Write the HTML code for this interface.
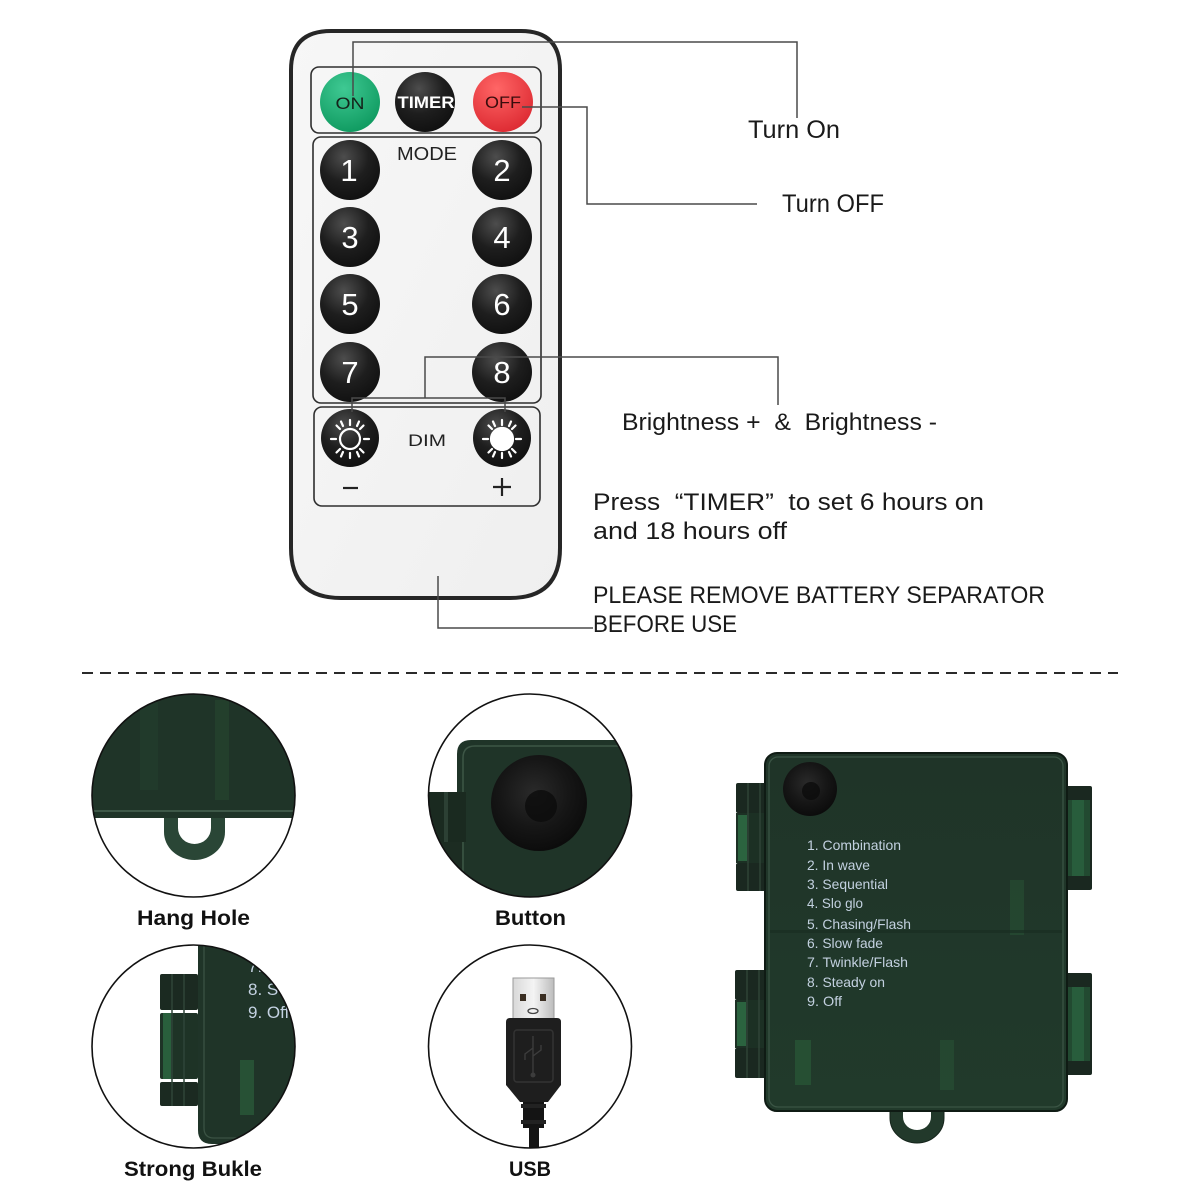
<!DOCTYPE html>
<html><head><meta charset="utf-8">
<style>
html,body{margin:0;padding:0;background:#fff;}
svg{display:block;}
text{font-family:"Liberation Sans",Arial,sans-serif;}
</style></head>
<body>
<svg width="1200" height="1200" viewBox="0 0 1200 1200" xmlns="http://www.w3.org/2000/svg">
<defs>
  <radialGradient id="gBlack" cx="40%" cy="28%" r="75%">
    <stop offset="0" stop-color="#4d4d4d"/><stop offset="0.55" stop-color="#1e1e1e"/><stop offset="1" stop-color="#101010"/>
  </radialGradient>
  <radialGradient id="gGreen" cx="40%" cy="28%" r="75%">
    <stop offset="0" stop-color="#3fc993"/><stop offset="1" stop-color="#0f9a60"/>
  </radialGradient>
  <radialGradient id="gRed" cx="40%" cy="28%" r="75%">
    <stop offset="0" stop-color="#ff6666"/><stop offset="1" stop-color="#dd2a32"/>
  </radialGradient>
  <linearGradient id="gBody" x1="0" y1="0" x2="1" y2="1">
    <stop offset="0" stop-color="#f7f7f7"/><stop offset="1" stop-color="#efefef"/>
  </linearGradient>
  <linearGradient id="gBox" x1="0" y1="0" x2="0" y2="1">
    <stop offset="0" stop-color="#1f3428"/><stop offset="1" stop-color="#213a2b"/>
  </linearGradient>
  <radialGradient id="gKnob" cx="45%" cy="40%" r="60%">
    <stop offset="0" stop-color="#2a2a2a"/><stop offset="0.6" stop-color="#161616"/><stop offset="1" stop-color="#0c0c0c"/>
  </radialGradient>
  <linearGradient id="gMetal" x1="0" y1="0" x2="1" y2="0">
    <stop offset="0" stop-color="#d8d8d8"/><stop offset="0.5" stop-color="#f4f4f4"/><stop offset="1" stop-color="#bcbcbc"/>
  </linearGradient>
  <clipPath id="c1"><circle cx="193.5" cy="795.5" r="101.5"/></clipPath>
  <clipPath id="c2"><circle cx="530" cy="795.5" r="101.5"/></clipPath>
  <clipPath id="c3"><circle cx="193.5" cy="1046.5" r="101.5"/></clipPath>
  <clipPath id="c4"><circle cx="530" cy="1046.5" r="101.5"/></clipPath>
</defs>

<!-- ============ REMOTE ============ -->
<path d="M331,31 H521 Q560,31 560,70 V548 Q560,598 510,598 H341 Q291,598 291,548 V70 Q291,31 331,31 Z" fill="url(#gBody)" stroke="#262626" stroke-width="4"/>
<rect x="311" y="67" width="230" height="66" rx="8" fill="none" stroke="#2e2e2e" stroke-width="1.6"/>
<rect x="313" y="137" width="228" height="266" rx="8" fill="none" stroke="#2e2e2e" stroke-width="1.6"/>
<rect x="314" y="407" width="226" height="99" rx="8" fill="none" stroke="#2e2e2e" stroke-width="1.6"/>

<!-- top buttons -->
<circle cx="350" cy="102" r="30" fill="url(#gGreen)"/>
<circle cx="425" cy="102" r="30" fill="url(#gBlack)"/>
<circle cx="503" cy="102" r="30" fill="url(#gRed)"/>
<text x="350" y="109" font-size="17" text-anchor="middle" fill="#15231b" textLength="29" lengthAdjust="spacingAndGlyphs">ON</text>
<text x="426" y="108" font-size="17" font-weight="bold" text-anchor="middle" fill="#fff" textLength="57" lengthAdjust="spacingAndGlyphs">TIMER</text>
<text x="503" y="108" font-size="17" text-anchor="middle" fill="#3a0c0c" textLength="36" lengthAdjust="spacingAndGlyphs">OFF</text>

<text x="427" y="160" font-size="18" text-anchor="middle" fill="#222" textLength="60" lengthAdjust="spacingAndGlyphs">MODE</text>

<!-- number buttons -->
<g fill="url(#gBlack)">
  <circle cx="350" cy="170" r="30"/><circle cx="502" cy="170" r="30"/>
  <circle cx="350" cy="237" r="30"/><circle cx="502" cy="237" r="30"/>
  <circle cx="350" cy="304" r="30"/><circle cx="502" cy="304" r="30"/>
  <circle cx="350" cy="372" r="30"/><circle cx="502" cy="372" r="30"/>
  <circle cx="350" cy="438" r="29"/><circle cx="502" cy="438" r="29"/>
</g>
<g font-size="31" fill="#fff" text-anchor="middle">
  <text x="349" y="181">1</text><text x="502" y="181">2</text>
  <text x="350" y="248">3</text><text x="502" y="248">4</text>
  <text x="350" y="315">5</text><text x="502" y="315">6</text>
  <text x="350" y="383">7</text><text x="502" y="383">8</text>
</g>

<!-- sun icons -->
<g stroke="#fff" stroke-width="2.2" stroke-linecap="round">
  <circle cx="350" cy="439" r="10" fill="none"/>
  <path d="M350,425 V420 M350,453 V458 M336,439 H331 M364,439 H369 M340,429 L336.5,425.5 M360,449 L363.5,452.5 M360,429 L363.5,425.5 M340,449 L336.5,452.5 M343,426 L341,421.5 M357,452 L359,456.5 M357,426 L359,421.5 M343,452 L341,456.5"/>
  <circle cx="502" cy="439" r="11" fill="#fff"/>
  <path d="M502,425 V420 M502,453 V458 M488,439 H483 M516,439 H521 M492,429 L488.5,425.5 M512,449 L515.5,452.5 M512,429 L515.5,425.5 M492,449 L488.5,452.5 M495,426 L493,421.5 M509,452 L511,456.5 M509,426 L511,421.5 M495,452 L493,456.5"/>
</g>
<text x="427" y="446" font-size="17" text-anchor="middle" fill="#222" textLength="38" lengthAdjust="spacingAndGlyphs">DIM</text>
<path d="M343,488 H358" stroke="#222" stroke-width="2.2"/>
<path d="M493,487 H511 M502,478 V496" stroke="#222" stroke-width="2.2"/>

<!-- connector lines -->
<g fill="none" stroke="#4a4a4a" stroke-width="1.5">
  <path d="M353,96 V42 H797 V118"/>
  <path d="M522,107 H587 V204 H757"/>
  <path d="M778,405 V357 H425 V398"/>
  <path d="M352,412 V398 H505 V412"/>
  <path d="M438,576 V628 H593"/>
</g>

<!-- labels -->
<g fill="#1a1a1a" font-size="25">
  <text x="748" y="138" textLength="92" lengthAdjust="spacingAndGlyphs">Turn On</text>
  <text x="782" y="212" textLength="102" lengthAdjust="spacingAndGlyphs">Turn OFF</text>
  <text x="622" y="430" font-size="24" textLength="315" lengthAdjust="spacingAndGlyphs" style="white-space:pre">Brightness +  &amp;  Brightness -</text>
  <text x="593" y="510" font-size="24" textLength="391" lengthAdjust="spacingAndGlyphs" style="white-space:pre">Press  “TIMER”  to set 6 hours on</text>
  <text x="593" y="539" font-size="24" textLength="194" lengthAdjust="spacingAndGlyphs">and 18 hours off</text>
  <text x="593" y="603" font-size="24" textLength="452" lengthAdjust="spacingAndGlyphs">PLEASE REMOVE BATTERY SEPARATOR</text>
  <text x="593" y="632" font-size="24" textLength="144" lengthAdjust="spacingAndGlyphs">BEFORE USE</text>
</g>

<!-- dashed separator -->
<path d="M82,673 H1118" stroke="#2a2a2a" stroke-width="2" stroke-dasharray="11 7"/>

<!-- ============ CIRCLE 1 : Hang Hole ============ -->
<g clip-path="url(#c1)">
  <rect x="80" y="680" width="230" height="138" fill="#1f3428"/>
  <rect x="140" y="700" width="18" height="90" fill="#23402d" opacity="0.6"/>
  <rect x="215" y="700" width="14" height="100" fill="#27492f" opacity="0.5"/>
  <rect x="80" y="810" width="230" height="2" fill="#3e5848"/>
  <path d="M164,818 V832 A30.5,28 0 0 0 225,832 V818 Z" fill="#2a4636"/>
  <path d="M178,818 V828 A16.5,16 0 0 0 211,828 V818 Z" fill="#fff"/>
</g>
<circle cx="193.5" cy="795.5" r="101.5" fill="none" stroke="#111" stroke-width="1.6"/>

<!-- ============ CIRCLE 2 : Button ============ -->
<g clip-path="url(#c2)">
  <path d="M457,900 V754 Q457,740 471,740 H650 V900 Z" fill="#1f3428"/>
  <path d="M463,900 V758 Q463,746 475,746 H650" fill="none" stroke="#3d5646" stroke-width="1.5"/>
  <rect x="426" y="792" width="40" height="50" fill="#1a2a20"/>
  <rect x="444" y="792" width="4" height="50" fill="#2c4034"/>
  <rect x="426" y="842" width="36" height="60" fill="#1c2c22"/>
  <circle cx="539" cy="803" r="48" fill="url(#gKnob)"/>
  <circle cx="541" cy="806" r="16" fill="#0b0b0b" opacity="0.8"/>
</g>
<circle cx="530" cy="795.5" r="101.5" fill="none" stroke="#111" stroke-width="1.6"/>

<!-- ============ CIRCLE 3 : Strong Bukle ============ -->
<g clip-path="url(#c3)">
  <path d="M198,930 V1130 Q198,1144 212,1144 H310 V930 Z" fill="#1f3428"/>
  <path d="M204,930 V1128 Q204,1138 214,1138 H310" fill="none" stroke="#3a5243" stroke-width="1.3"/>
  <rect x="240" y="1060" width="14" height="55" fill="#2e6a40" opacity="0.55"/>
  <rect x="160" y="974" width="38" height="36" rx="2" fill="#1b2a21"/>
  <rect x="160" y="1013" width="38" height="66" rx="2" fill="#1e3326"/>
  <rect x="163" y="1013" width="8" height="66" fill="#2c6a42" opacity="0.8"/>
  <rect x="160" y="1082" width="38" height="24" rx="2" fill="#1b2a21"/>
  <path d="M172,974 V1106 M184,974 V1106" stroke="#2f4438" stroke-width="1.5"/>
  <g fill="#c4d2e2" font-size="17">
    <text x="248" y="972">7.</text>
    <text x="248" y="995">8. St</text>
    <text x="248" y="1018">9. Off</text>
  </g>
</g>
<circle cx="193.5" cy="1046.5" r="101.5" fill="none" stroke="#111" stroke-width="1.6"/>

<!-- ============ CIRCLE 4 : USB ============ -->
<g clip-path="url(#c4)">
  <rect x="513" y="978" width="41" height="44" fill="url(#gMetal)" stroke="#9a9a9a" stroke-width="1"/>
  <rect x="520" y="994" width="6" height="7" fill="#3a2e22"/>
  <rect x="540" y="994" width="6" height="7" fill="#3a2e22"/>
  <ellipse cx="533" cy="1011" rx="5" ry="2.5" fill="none" stroke="#444" stroke-width="1.3"/>
  <path d="M506,1022 Q506,1018 510,1018 H557 Q561,1018 561,1022 V1085 L548,1102 H520 L506,1085 Z" fill="#1e1e1e"/>
  <rect x="514" y="1030" width="39" height="52" rx="3" fill="none" stroke="#333" stroke-width="1.5"/>
  <path d="M533,1036 V1074 M533,1048 L525,1054 V1060 M533,1056 L541,1050 V1045" stroke="#3c3c3c" stroke-width="1.4" fill="none"/>
  <circle cx="533" cy="1075" r="2.5" fill="#3c3c3c"/>
  <rect x="523" y="1102" width="21" height="26" fill="#141414"/>
  <rect x="521" y="1104" width="25" height="4" fill="#222"/>
  <rect x="521" y="1120" width="25" height="4" fill="#222"/>
  <rect x="529" y="1128" width="10" height="30" fill="#151515"/>
</g>
<circle cx="530" cy="1046.5" r="101.5" fill="none" stroke="#111" stroke-width="1.6"/>

<!-- bottom labels -->
<g fill="#111" font-size="21" font-weight="bold">
  <text x="137" y="925" textLength="113" lengthAdjust="spacingAndGlyphs">Hang Hole</text>
  <text x="495" y="925" textLength="71" lengthAdjust="spacingAndGlyphs">Button</text>
  <text x="124" y="1176" textLength="138" lengthAdjust="spacingAndGlyphs">Strong Bukle</text>
  <text x="509" y="1176" textLength="42" lengthAdjust="spacingAndGlyphs">USB</text>
</g>

<!-- ============ BIG BATTERY BOX ============ -->
<!-- hang loop -->
<path d="M890,1105 V1118 A27,25 0 0 0 944,1118 V1105 Z" fill="#22392b" stroke="#15241b" stroke-width="1"/>
<path d="M903,1108 V1117 A14,13 0 0 0 931,1117 V1108 Z" fill="#fff"/>
<!-- left hinges -->
<g>
  <rect x="736" y="783" width="36" height="30" rx="2" fill="#1a2820"/>
  <rect x="736" y="813" width="36" height="50" fill="#1c3024"/>
  <rect x="738" y="815" width="9" height="46" fill="#2e6c44" opacity="0.85"/>
  <rect x="736" y="863" width="36" height="28" rx="2" fill="#1a2820"/>
  <path d="M748,783 V891 M760,783 V891" stroke="#2e4236" stroke-width="1.5"/>
  <rect x="735" y="970" width="36" height="30" rx="2" fill="#1a2820"/>
  <rect x="735" y="1000" width="36" height="48" fill="#1c3024"/>
  <rect x="737" y="1002" width="9" height="44" fill="#2e6c44" opacity="0.85"/>
  <rect x="735" y="1048" width="36" height="30" rx="2" fill="#1a2820"/>
  <path d="M747,970 V1078 M759,970 V1078" stroke="#2e4236" stroke-width="1.5"/>
</g>
<!-- right hinges -->
<g>
  <rect x="1060" y="786" width="32" height="104" rx="2" fill="#1a2820"/>
  <rect x="1066" y="800" width="24" height="76" fill="#224a31"/>
  <rect x="1072" y="800" width="12" height="76" fill="#2b6240" opacity="0.8"/>
  <rect x="1060" y="973" width="32" height="102" rx="2" fill="#1a2820"/>
  <rect x="1066" y="987" width="24" height="74" fill="#224a31"/>
  <rect x="1072" y="987" width="12" height="74" fill="#2b6240" opacity="0.8"/>
</g>
<!-- body -->
<rect x="765" y="753" width="302" height="358" rx="12" fill="url(#gBox)" stroke="#0f1b14" stroke-width="2"/>
<rect x="769" y="757" width="294" height="350" rx="9" fill="none" stroke="#3a5444" stroke-width="1.3"/>
<rect x="795" y="1040" width="16" height="45" fill="#2d6a3e" opacity="0.45"/>
<rect x="940" y="1040" width="14" height="50" fill="#2d6a3e" opacity="0.3"/>
<rect x="1010" y="880" width="14" height="55" fill="#2d6a3e" opacity="0.3"/>
<rect x="770" y="930" width="292" height="3" fill="#1a2d22" opacity="0.7"/>
<circle cx="810" cy="789" r="27" fill="url(#gKnob)"/>
<circle cx="811" cy="791" r="9" fill="#0b0b0b" opacity="0.8"/>
<!-- list -->
<g fill="#c3d1e0" font-size="14">
  <text x="807" y="850" textLength="94" lengthAdjust="spacingAndGlyphs">1. Combination</text>
  <text x="807" y="870" textLength="63" lengthAdjust="spacingAndGlyphs">2. In wave</text>
  <text x="807" y="889" textLength="81" lengthAdjust="spacingAndGlyphs">3. Sequential</text>
  <text x="807" y="908" textLength="56" lengthAdjust="spacingAndGlyphs">4. Slo glo</text>
  <text x="807" y="929" textLength="104" lengthAdjust="spacingAndGlyphs">5. Chasing/Flash</text>
  <text x="807" y="948" textLength="76" lengthAdjust="spacingAndGlyphs">6. Slow fade</text>
  <text x="807" y="967" textLength="101" lengthAdjust="spacingAndGlyphs">7. Twinkle/Flash</text>
  <text x="807" y="987" textLength="78" lengthAdjust="spacingAndGlyphs">8. Steady on</text>
  <text x="807" y="1006" textLength="35" lengthAdjust="spacingAndGlyphs">9. Off</text>
</g>
</svg>
</body></html>
